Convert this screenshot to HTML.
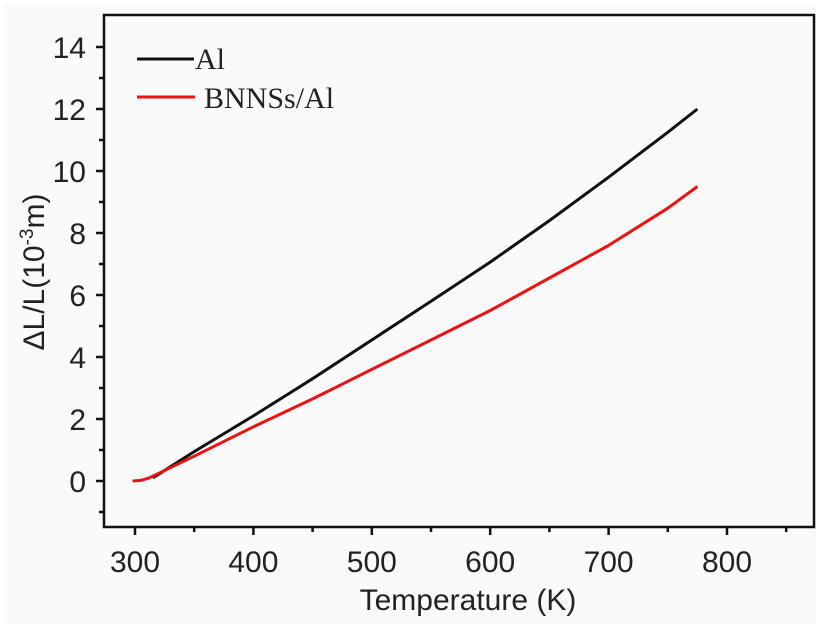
<!DOCTYPE html>
<html><head><meta charset="utf-8"><style>
html,body{margin:0;padding:0;background:#fff;}
svg{display:block;}
text{font-family:"Liberation Sans",sans-serif;fill:#222;}
</style></head><body>
<svg id="chart" width="820" height="631" viewBox="0 0 820 631" xmlns="http://www.w3.org/2000/svg">
<rect x="4" y="4" width="812" height="620" fill="#fafafa"/>
<g id="plot"></g>
</svg>
<script>
const xTicks=[300,400,500,600,700,800];
const yTicks=[0,2,4,6,8,10,12,14];
const alT=[315,320,350,400,450,500,550,600,650,700,750,775];
const alV=[0.1,0.22,0.95,2.1,3.3,4.55,5.8,7.06,8.4,9.8,11.25,12.0];
const bnT=[298,305,312,320,350,400,450,500,550,600,650,700,750,775];
const bnV=[0,0.02,0.1,0.25,0.8,1.75,2.65,3.6,4.55,5.5,6.55,7.6,8.8,9.5];
const L=104,R=814,T=15,B=527;
const xs=v=>135+(v-300)*1.184;
const ys=v=>481-v*31;
const NS="http://www.w3.org/2000/svg";
const g=document.getElementById('plot');
function mk(t,a,p){const e=document.createElementNS(NS,t);for(const k in a)e.setAttribute(k,a[k]);(p||g).appendChild(e);return e;}
const frame=mk('rect',{x:L,y:T,width:R-L,height:B-T,fill:'none',stroke:'#111','stroke-width':2.5});


for(let v=300;v<=850;v+=50){const x=xs(v);const maj=v%100===0;
const t=mk('line',{x1:x,x2:x,y1:B,y2:B+(maj?8:5),stroke:'#111','stroke-width':2.5});

}
xTicks.forEach(v=>{const t=mk('text',{x:xs(v),y:B+45,'text-anchor':'middle','font-size':30});t.textContent=v;

});
for(let v=-1;v<=14;v+=1){const y=ys(v);const maj=v%2===0;
const t=mk('line',{x1:L,x2:L-(maj?8:5),y1:y,y2:y,stroke:'#111','stroke-width':2.5});

}
yTicks.forEach(v=>{const t=mk('text',{x:L-18,y:ys(v)+11,'text-anchor':'end','font-size':30});t.textContent=v;

});
function line(Ts,Vs,c,n){const d=Ts.map((t,i)=>(i?'L':'M')+xs(t).toFixed(1)+','+ys(Vs[i]).toFixed(1)).join(' ');
const p=mk('path',{d:d,fill:'none',stroke:c,'stroke-width':3,'stroke-linejoin':'round'});

}
line(alT,alV,'#111','series-al');
line(bnT,bnV,'#ee1111','series-bnns-al');
const xl=mk('text',{x:468,y:610,'text-anchor':'middle','font-size':30});xl.textContent='Temperature (K)';


const yl=mk('text',{transform:'translate(44,272) rotate(-90)','text-anchor':'middle','font-size':30});
yl.innerHTML='ΔL/L(10<tspan dy="-11" font-size="19">-3</tspan><tspan dy="11">m)</tspan>';


const l1=mk('line',{x1:137,x2:194,y1:59,y2:59,stroke:'#111','stroke-width':3});


const t1=mk('text',{x:195,y:69,'font-size':30,style:'font-family:"Liberation Serif",serif'});t1.textContent='Al';


const l2=mk('line',{x1:137,x2:195,y1:97,y2:97,stroke:'#ee1111','stroke-width':3});


const t2=mk('text',{x:204,y:108,'font-size':30,style:'font-family:"Liberation Serif",serif'});t2.textContent='BNNSs/Al';


</script>
</body></html>
